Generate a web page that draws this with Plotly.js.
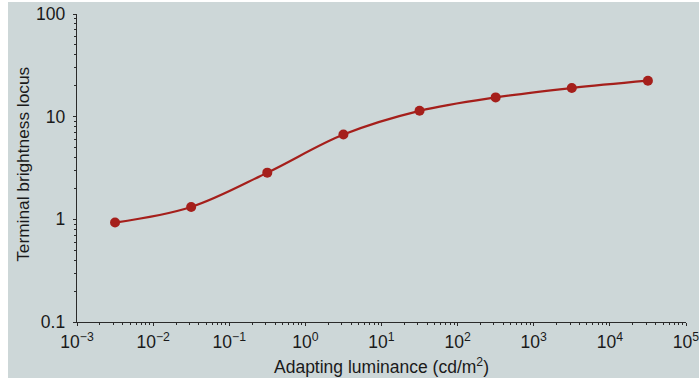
<!DOCTYPE html>
<html>
<head>
<meta charset="utf-8">
<script src="https://cdn.plot.ly/plotly-3.0.1.min.js"></script>
<style>
  html, body { margin: 0; padding: 0; background: #ffffff; }
  #chart { position: absolute; left: 8px; top: 2px; width: 691px; height: 376px; }
</style>
</head>
<body>
<div id="chart"></div>
<script>
// Adapting luminance (cd/m^2) and the terminal brightness locus measured at each level
const luminance = [0.00316, 0.0316, 0.316, 3.16, 31.6, 316, 3160, 31600];
const brightnessLocus = [0.93, 1.32, 2.85, 6.7, 11.4, 15.4, 19.0, 22.4];

// Axis labelling
const xTickVals = [0.001, 0.01, 0.1, 1, 10, 100, 1000, 10000, 100000];
const xTickText = ['10<sup>−3</sup>', '10<sup>−2</sup>', '10<sup>−1</sup>', '10<sup>0</sup>',
                   '10<sup>1</sup>', '10<sup>2</sup>', '10<sup>3</sup>', '10<sup>4</sup>', '10<sup>5</sup>'];
const yTickVals = [0.1, 1, 10, 100];
const yTickText = ['0.1', '1', '10', '100'];

// Minor tick positions: 2..9 within every decade of an axis
function decadeSteps(fromExp, toExp) {
  const out = [];
  for (let e = fromExp; e < toExp; e++) {
    for (let d = 2; d <= 9; d++) out.push(d * Math.pow(10, e));
  }
  return out;
}
const xMinor = decadeSteps(-3, 5);
const yMinor = decadeSteps(-1, 2);

const ink = '#2a2a2a';
const red = '#a51f1b';
const font = { family: 'Liberation Sans, Arial, sans-serif', color: '#1a1a1a' };

// Ticks cross the axis line: one axis carries the outer half, an overlay the inner half
function baseAxis(vals, text, minorVals, range, side) {
  return {
    type: 'log',
    range: range,
    tickmode: 'array',
    tickvals: vals,
    ticktext: text,
    ticks: side,
    ticklen: 3,
    tickwidth: 1,
    tickcolor: ink,
    minor: { tickmode: 'array', tickvals: minorVals, ticks: side, ticklen: 2, tickwidth: 1, tickcolor: ink, showgrid: false },
    showgrid: false,
    zeroline: false,
    showline: true,
    linecolor: ink,
    linewidth: 1.3,
    ticklabeloverflow: 'allow',
    tickfont: { size: 17.5, family: font.family, color: font.color },
    fixedrange: true
  };
}

const xaxis = baseAxis(xTickVals, xTickText, xMinor, [-3, 5], 'outside');
xaxis.title = { text: 'Adapting luminance (cd/m<sup>2</sup>)', font: { size: 17.5, family: font.family, color: font.color }, standoff: 9 };
xaxis.ticklabelstandoff = 1;
xaxis.anchor = 'y';

const yaxis = baseAxis(yTickVals, yTickText, yMinor, [-1, 2], 'outside');
yaxis.anchor = 'x';
yaxis.ticklabelstandoff = 4;

const xaxis2 = baseAxis(xTickVals, xTickText, xMinor, [-3, 5], 'inside');
Object.assign(xaxis2, { overlaying: 'x', anchor: 'y', side: 'bottom', showticklabels: false, showline: false });
const yaxis2 = baseAxis(yTickVals, yTickText, yMinor, [-1, 2], 'inside');
Object.assign(yaxis2, { overlaying: 'y', anchor: 'x', side: 'left', showticklabels: false, showline: false });

const trace = {
  x: luminance,
  y: brightnessLocus,
  type: 'scatter',
  mode: 'lines+markers',
  line: { color: red, width: 2.2, shape: 'spline', smoothing: 1 },
  marker: { color: red, size: 10 },
  hoverinfo: 'x+y',
  showlegend: false
};

const layout = {
  width: 691,
  height: 376,
  margin: { l: 69, r: 13, t: 11.5, b: 56.3 },
  paper_bgcolor: '#cdd7d8',
  plot_bgcolor: '#cdd7d8',
  font: font,
  xaxis: xaxis,
  yaxis: yaxis,
  xaxis2: xaxis2,
  yaxis2: yaxis2,
  showlegend: false,
  annotations: [{
    text: 'Terminal brightness locus',
    xref: 'paper', yref: 'paper',
    x: -0.089, y: 0.513,
    xanchor: 'center', yanchor: 'middle',
    textangle: -90,
    showarrow: false,
    font: { size: 17.3, family: font.family, color: font.color }
  }]
};

Plotly.newPlot('chart', [trace], layout, { staticPlot: true, displayModeBar: false });
</script>
</body>
</html>
